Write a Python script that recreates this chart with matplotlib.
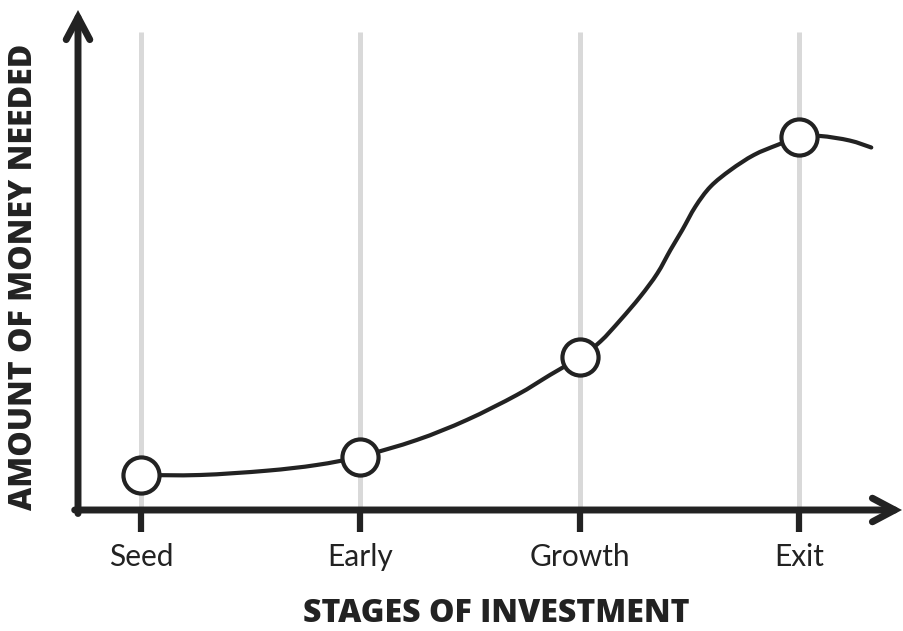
import matplotlib.pyplot as plt
from matplotlib.path import Path
from matplotlib.patches import PathPatch

# --- data ---
stages = ["Seed", "Early", "Growth", "Exit"]
stage_x = [0, 1, 2, 3]
stage_money = [7.0, 10.7, 30.6, 74.6]

# points along the drawn curve (x in stage units, y in arbitrary money units)
curve_x = [0.0, 0.269, 0.573, 0.800, 1.0, 1.256, 1.484, 1.712, 1.863, 2.0,
           2.093, 2.184, 2.275, 2.352, 2.412, 2.466, 2.526, 2.595, 2.686,
           2.792, 2.899, 3.0, 3.095, 3.228, 3.327]
curve_y = [7.0, 7.0, 7.86, 9.0, 10.7, 14.0, 18.0, 23.0, 27.0, 30.6,
           33.7, 38.0, 42.7, 47.3, 52.0, 56.0, 60.7, 64.7, 68.0,
           71.0, 73.0, 74.6, 74.8, 73.9, 72.5]

DARK = "#222222"
GREY = "#d9d9d9"

plt.rcParams["font.family"] = ["Lato", "DejaVu Sans"]


def smooth_path(xs, ys):
    # Catmull-Rom through the read points, drawn as cubic Bezier segments
    pts = list(zip(xs, ys))
    verts = [pts[0]]
    codes = [Path.MOVETO]
    for i in range(len(pts) - 1):
        p0 = pts[max(i - 1, 0)]
        p1 = pts[i]
        p2 = pts[i + 1]
        p3 = pts[min(i + 2, len(pts) - 1)]
        c1 = (p1[0] + (p2[0] - p0[0]) / 6, p1[1] + (p2[1] - p0[1]) / 6)
        c2 = (p2[0] - (p3[0] - p1[0]) / 6, p2[1] - (p3[1] - p1[1]) / 6)
        verts += [c1, c2, p2]
        codes += [Path.CURVE4] * 3
    return Path(verts, codes)


fig = plt.figure(figsize=(9.04, 6.31), dpi=100)
ax = fig.add_axes([78 / 904, 121 / 631, 824 / 904, 500 / 631])
ax.set_xlim(-0.287, 3.467)
ax.set_ylim(0, 100)

# grey stage guides
ax.vlines(stage_x, 0, 95.6, color=GREY, linewidth=3.6, zorder=1)

# curve + stage markers
ax.add_patch(PathPatch(smooth_path(curve_x, curve_y), facecolor="none",
                       edgecolor=DARK, linewidth=3.0, capstyle="round",
                       zorder=2))
ax.plot(stage_x, stage_money, "o", markersize=26, markerfacecolor="white",
        markeredgecolor=DARK, markeredgewidth=3.0, zorder=3)

# axes as arrows
for spine in ax.spines.values():
    spine.set_visible(False)
arrow = dict(arrowstyle="->,head_length=1.6,head_width=0.85", color=DARK,
             lw=5, shrinkA=0, shrinkB=0, joinstyle="miter")
ax.annotate("", xy=(1.0, 0), xytext=(-0.004, 0), xycoords="axes fraction",
            arrowprops=arrow)
ax.annotate("", xy=(0, 1.0), xytext=(0, -0.007), xycoords="axes fraction",
            arrowprops=arrow)

ax.set_yticks([])
ax.set_xticks(stage_x)
ax.set_xticklabels(stages, fontsize=21.5, color=DARK)
ax.tick_params(axis="x", length=16, width=4.5, color=DARK, pad=8)

fig.text(0.5 * (305 + 688) / 904, 1 - 614 / 631, "STAGES OF INVESTMENT",
         ha="center", va="center", fontsize=23, fontweight="heavy",
         family=["Open Sans", "DejaVu Sans"], color=DARK)
fig.text(24 / 904, 1 - 277 / 631, "AMOUNT OF MONEY NEEDED", rotation=90,
         ha="center", va="center", fontsize=23, fontweight="heavy",
         family=["Open Sans", "DejaVu Sans"], color=DARK)

fig.savefig("out.png", dpi=100)
